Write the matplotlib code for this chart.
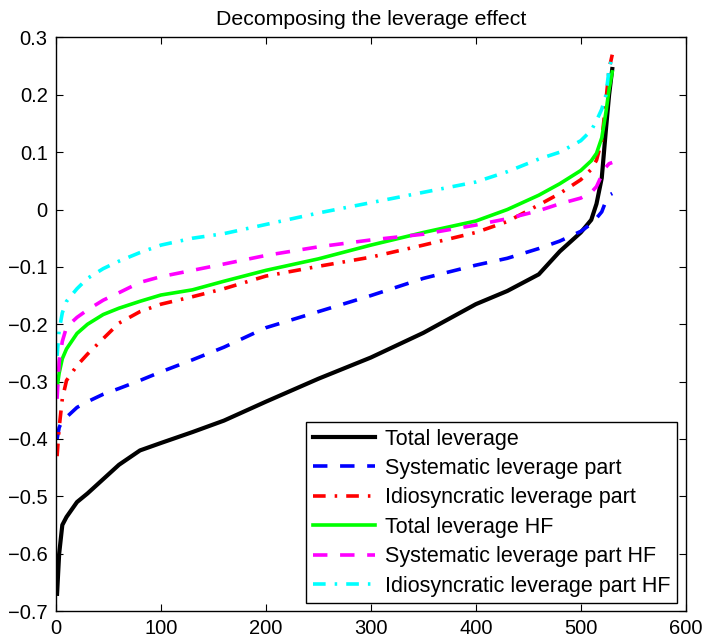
import matplotlib
matplotlib.use("Agg")
import matplotlib.pyplot as plt

plt.rcParams['font.family'] = ['Liberation Sans', 'DejaVu Sans']

# sorted firm index (x) and leverage estimates per series
firm_rank = [1, 3, 6, 10, 20, 30, 45, 60, 80, 100, 130, 160, 200, 250, 300,
             350, 400, 430, 460, 480, 500, 510, 515, 520, 524, 527, 530]

total_lev = [-0.67, -0.60, -0.55, -0.536, -0.51, -0.495, -0.47, -0.445, -0.42,
             -0.407, -0.388, -0.368, -0.335, -0.295, -0.258, -0.215, -0.165,
             -0.142, -0.113, -0.073, -0.040, -0.018, 0.010, 0.055, 0.14, 0.20, 0.245]
syst_lev = [-0.40, -0.38, -0.368, -0.362, -0.345, -0.335, -0.322, -0.312, -0.298,
            -0.283, -0.262, -0.24, -0.206, -0.178, -0.15, -0.12, -0.097,
            -0.085, -0.068, -0.055, -0.038, -0.025, -0.015, -0.004, 0.015, 0.025, 0.028]
idio_lev = [-0.43, -0.38, -0.33, -0.298, -0.272, -0.252, -0.225, -0.198, -0.178,
            -0.165, -0.152, -0.138, -0.116, -0.099, -0.083, -0.062, -0.040,
            -0.021, 0.008, 0.028, 0.052, 0.07, 0.086, 0.12, 0.19, 0.245, 0.27]
total_lev_hf = [-0.31, -0.285, -0.26, -0.243, -0.216, -0.2, -0.183, -0.172, -0.16,
                -0.149, -0.14, -0.125, -0.106, -0.086, -0.062, -0.04, -0.02,
                0.0, 0.025, 0.045, 0.068, 0.085, 0.098, 0.125, 0.17, 0.21, 0.24]
syst_lev_hf = [-0.33, -0.265, -0.23, -0.205, -0.188, -0.175, -0.158, -0.145, -0.127,
               -0.117, -0.106, -0.095, -0.080, -0.065, -0.053, -0.043, -0.027,
               -0.016, -0.002, 0.010, 0.020, 0.030, 0.040, 0.060, 0.074, 0.08, 0.082]
idio_lev_hf = [-0.255, -0.21, -0.18, -0.16, -0.138, -0.12, -0.103, -0.09, -0.075,
               -0.062, -0.05, -0.042, -0.026, -0.006, 0.012, 0.030, 0.048,
               0.066, 0.088, 0.100, 0.120, 0.138, 0.155, 0.175, 0.2, 0.245, 0.267]

labels = ["Total leverage", "Systematic leverage part", "Idiosyncratic leverage part",
          "Total leverage HF", "Systematic leverage part HF", "Idiosyncratic leverage part HF"]

dash = (4, 3.5)
dashdot = (3.5, 2.5, 0.7, 2.5)

fig = plt.figure(figsize=(7.02, 6.44), dpi=100)
ax = fig.add_axes([0.0798, 0.0512, 0.897, 0.8906])

lw = 2.6
ax.plot(firm_rank, total_lev, color='black', lw=lw + 0.4, label=labels[0])
ax.plot(firm_rank, syst_lev, color='blue', lw=lw, dashes=dash, label=labels[1])
ax.plot(firm_rank, idio_lev, color='red', lw=lw, dashes=dashdot, label=labels[2])
ax.plot(firm_rank, total_lev_hf, color='#00ff00', lw=lw, label=labels[3])
ax.plot(firm_rank, syst_lev_hf, color='magenta', lw=lw, dashes=dash, label=labels[4])
ax.plot(firm_rank, idio_lev_hf, color='cyan', lw=lw, dashes=dashdot, label=labels[5])

ax.set_xlim(0, 600)
ax.set_ylim(-0.7, 0.3)
ax.set_xticks(range(0, 601, 100))
ax.set_yticks([-0.7, -0.6, -0.5, -0.4, -0.3, -0.2, -0.1, 0, 0.1, 0.2, 0.3])
ax.set_yticklabels(['\u22120.7', '\u22120.6', '\u22120.5', '\u22120.4', '\u22120.3',
                    '\u22120.2', '\u22120.1', '0', '0.1', '0.2', '0.3'])
ax.tick_params(direction='in', top=True, right=True, length=5, width=0.8,
               labelsize=14.5, pad=6)
for s in ax.spines.values():
    s.set_linewidth(1.0)

ax.set_title("Decomposing the leverage effect", fontsize=15.3, pad=9)

leg = ax.legend(loc='lower right', bbox_to_anchor=(0.986, 0.014), fontsize=15.5,
                frameon=True, fancybox=False, framealpha=1, edgecolor='black',
                handlelength=2.9, handletextpad=0.45, labelspacing=0.39,
                borderpad=0.3, borderaxespad=0)
leg.get_frame().set_linewidth(1.0)

fig.savefig("out.png", dpi=100)
